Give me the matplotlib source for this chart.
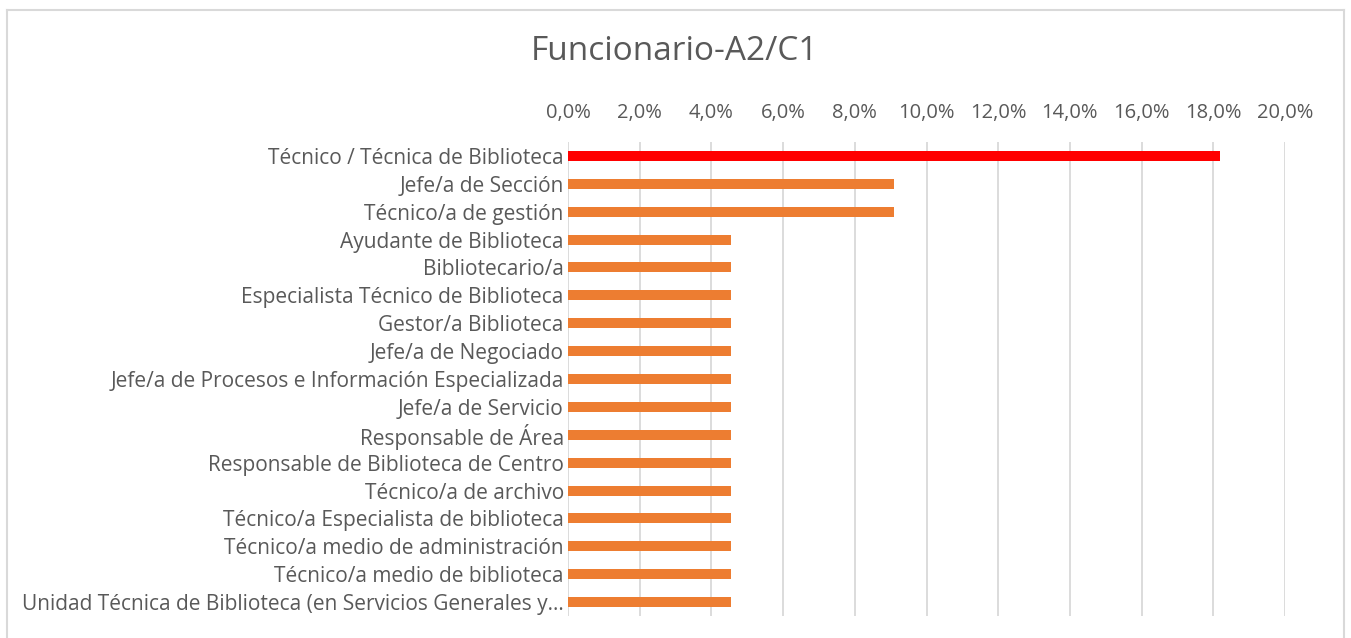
import matplotlib
matplotlib.use("Agg")
import matplotlib.pyplot as plt
from matplotlib.lines import Line2D
from matplotlib.ticker import FuncFormatter, MultipleLocator

categories = [
    "Técnico / Técnica de Biblioteca",
    "Jefe/a de Sección",
    "Técnico/a de gestión",
    "Ayudante de Biblioteca",
    "Bibliotecario/a",
    "Especialista Técnico de Biblioteca",
    "Gestor/a Biblioteca",
    "Jefe/a de Negociado",
    "Jefe/a de Procesos e Información Especializada",
    "Jefe/a de Servicio",
    "Responsable de Área",
    "Responsable de Biblioteca de Centro",
    "Técnico/a de archivo",
    "Técnico/a Especialista de biblioteca",
    "Técnico/a medio de administración",
    "Técnico/a medio de biblioteca",
    "Unidad Técnica de Biblioteca (en Servicios Generales y…",
]
values = [18.18, 9.09, 9.09, 4.55, 4.55, 4.55, 4.55, 4.55, 4.55, 4.55,
          4.55, 4.55, 4.55, 4.55, 4.55, 4.55, 4.55]
title = "Funcionario-A2/C1"

text_color = "#595959"
colors = ["#FF0000"] + ["#ED7D31"] * (len(values) - 1)

plt.rcParams['font.family'] = ['Open Sans', 'DejaVu Sans']

W, H = 1351, 638
fig = plt.figure(figsize=(W / 100, H / 100), dpi=100)
ax = fig.add_axes([568 / W, 1 - 616 / H, (1285 - 568) / W, (616 - 142) / H])

y = list(range(len(categories)))
ax.barh(y, values, height=0.36, color=colors, zorder=3)
ax.set_ylim(len(categories) - 0.5, -0.5)
ax.set_xlim(0, 20)
ax.xaxis.set_major_locator(MultipleLocator(2))
ax.xaxis.set_major_formatter(FuncFormatter(lambda v, p: f"{v:.1f}%".replace(".", ",")))
ax.xaxis.tick_top()
ax.grid(axis="x", color="#D9D9D9", linewidth=1.3, zorder=0)
ax.set_yticks(y)
ax.set_yticklabels(categories)
for s in ax.spines.values():
    s.set_visible(False)
ax.tick_params(axis="both", length=0, labelsize=15, colors=text_color)
ax.tick_params(axis="x", labelsize=14.5, pad=14)
ax.tick_params(axis="y", pad=3)

fig.text(675 / W, 1 - 52 / H, title, ha="center", va="center",
         fontsize=24, color=text_color)

# chart frame
fc = "#D9D9D9"
fig.add_artist(Line2D([7 / W, 7 / W], [0, 1 - 10 / H], transform=fig.transFigure, color=fc, lw=1.5))
fig.add_artist(Line2D([7 / W, 1344 / W], [1 - 10 / H, 1 - 10 / H], transform=fig.transFigure, color=fc, lw=1.5))
fig.add_artist(Line2D([1344 / W, 1344 / W], [0, 1 - 10 / H], transform=fig.transFigure, color=fc, lw=1.5))

fig.savefig("out.png", dpi=100)
